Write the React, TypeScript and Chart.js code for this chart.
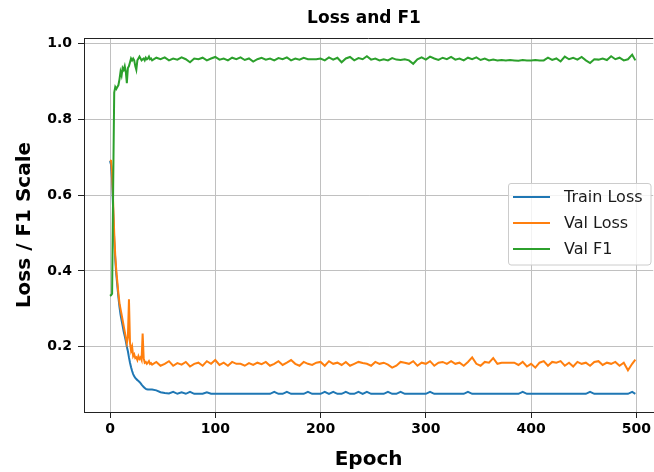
import React, { useEffect, useRef } from "react";
import { Chart, registerables } from "chart.js";

Chart.register(...registerables);

const epochs = [
  0, 1, 2, 3, 4, 5, 6, 7, 8, 9,
  10, 11, 12, 13, 14, 15, 16, 17, 18, 19,
  20, 21, 22, 23, 24, 25, 26, 27, 28, 29,
  30, 31, 32, 33, 34, 35, 36, 37, 38, 39,
  40,
  44, 48, 52, 56, 60, 64, 68, 72, 76, 80,
  84, 88, 92, 96, 100, 104, 108, 112, 116, 120,
  124, 128, 132, 136, 140, 144, 148, 152, 156, 160,
  164, 168, 172, 176, 180, 184, 188, 192, 196, 200,
  204, 208, 212, 216, 220, 224, 228, 232, 236, 240,
  244, 248, 252, 256, 260, 264, 268, 272, 276, 280,
  284, 288, 292, 296, 300, 304, 308, 312, 316, 320,
  324, 328, 332, 336, 340, 344, 348, 352, 356, 360,
  364, 368, 372, 376, 380, 384, 388, 392, 396, 400,
  404, 408, 412, 416, 420, 424, 428, 432, 436, 440,
  444, 448, 452, 456, 460, 464, 468, 472, 476, 480,
  484, 488, 492, 496,
  499,
];

const trainLoss = [
  0.69, 0.68, 0.64, 0.56, 0.48, 0.43, 0.39, 0.36, 0.33, 0.305,
  0.285, 0.27, 0.255, 0.24, 0.228, 0.215, 0.2, 0.188, 0.172, 0.158,
  0.146, 0.136, 0.128, 0.122, 0.118, 0.115, 0.112, 0.11, 0.107, 0.104,
  0.1, 0.097, 0.094, 0.091, 0.089, 0.088, 0.087, 0.087, 0.087, 0.087,
  0.087,
  0.085, 0.08, 0.078, 0.077, 0.081, 0.076, 0.08, 0.076, 0.081, 0.076,
  0.076, 0.076, 0.08, 0.076, 0.076, 0.076, 0.076, 0.076, 0.076, 0.076,
  0.076, 0.076, 0.076, 0.076, 0.076, 0.076, 0.076, 0.076, 0.081, 0.076,
  0.076, 0.081, 0.076, 0.076, 0.076, 0.076, 0.081, 0.076, 0.076, 0.076,
  0.081, 0.076, 0.081, 0.076, 0.076, 0.081, 0.076, 0.076, 0.081, 0.076,
  0.081, 0.076, 0.076, 0.076, 0.076, 0.081, 0.076, 0.076, 0.081, 0.076,
  0.076, 0.076, 0.076, 0.076, 0.076, 0.081, 0.076, 0.076, 0.076, 0.076,
  0.076, 0.076, 0.076, 0.076, 0.081, 0.076, 0.076, 0.076, 0.076, 0.076,
  0.076, 0.076, 0.076, 0.076, 0.076, 0.076, 0.076, 0.081, 0.076, 0.076,
  0.076, 0.076, 0.076, 0.076, 0.076, 0.076, 0.076, 0.076, 0.076, 0.076,
  0.076, 0.076, 0.076, 0.081, 0.076, 0.076, 0.076, 0.076, 0.076, 0.076,
  0.076, 0.076, 0.076, 0.081,
  0.076,
];

const valLoss = [
  0.692, 0.69, 0.66, 0.58, 0.5, 0.44, 0.4, 0.37, 0.34, 0.315,
  0.3, 0.285, 0.27, 0.255, 0.24, 0.225, 0.21, 0.225, 0.325, 0.21,
  0.19, 0.2, 0.175, 0.18, 0.17, 0.172, 0.165, 0.175, 0.168, 0.172,
  0.165, 0.235, 0.17, 0.158, 0.16, 0.155, 0.158, 0.162, 0.155, 0.157,
  0.153,
  0.16, 0.15, 0.155, 0.162, 0.15, 0.157, 0.153, 0.16, 0.148, 0.155,
  0.158, 0.15, 0.162, 0.155, 0.165, 0.152, 0.158, 0.15, 0.16, 0.155,
  0.155, 0.15, 0.157, 0.152, 0.158, 0.154, 0.16, 0.15, 0.155, 0.162,
  0.152, 0.158, 0.165, 0.155, 0.15, 0.16, 0.155, 0.152, 0.158, 0.16,
  0.15, 0.162, 0.155, 0.158, 0.152, 0.16, 0.15, 0.155, 0.16, 0.157,
  0.155, 0.15, 0.16, 0.155, 0.158, 0.153, 0.145, 0.15, 0.16, 0.158,
  0.155, 0.162, 0.15, 0.158, 0.155, 0.162, 0.15, 0.158, 0.16, 0.155,
  0.162, 0.155, 0.158, 0.15, 0.16, 0.172, 0.155, 0.15, 0.16, 0.158,
  0.17, 0.155, 0.158, 0.158, 0.158, 0.158, 0.152, 0.16, 0.148, 0.155,
  0.145, 0.158, 0.162, 0.15, 0.16, 0.158, 0.162, 0.15, 0.158, 0.148,
  0.16, 0.155, 0.158, 0.15, 0.16, 0.162, 0.152, 0.158, 0.155, 0.16,
  0.15, 0.158, 0.138, 0.155,
  0.166,
];

const valF1 = [
  0.334, 0.336, 0.34, 0.62, 0.87, 0.885, 0.88, 0.885, 0.89, 0.905,
  0.925, 0.915, 0.935, 0.93, 0.94, 0.925, 0.895, 0.935, 0.94, 0.95,
  0.96, 0.955, 0.96, 0.955, 0.94, 0.93, 0.955, 0.96, 0.965, 0.96,
  0.955, 0.958, 0.96, 0.955, 0.962, 0.958, 0.96, 0.965, 0.958, 0.96,
  0.955,
  0.962, 0.958, 0.963, 0.955, 0.96, 0.957, 0.963, 0.958, 0.95, 0.96,
  0.958, 0.962, 0.955, 0.96, 0.964, 0.957, 0.96, 0.955, 0.962, 0.958,
  0.963, 0.956, 0.96, 0.952, 0.958, 0.962, 0.957, 0.96, 0.955, 0.961,
  0.958, 0.963, 0.955, 0.96, 0.957, 0.962, 0.958, 0.958, 0.958, 0.96,
  0.955, 0.963, 0.957, 0.962, 0.95, 0.96, 0.964, 0.955, 0.961, 0.958,
  0.966, 0.957, 0.96, 0.955, 0.958, 0.955, 0.961, 0.957, 0.956, 0.958,
  0.955, 0.946, 0.958, 0.963, 0.957, 0.965, 0.96, 0.956, 0.962, 0.958,
  0.964, 0.957, 0.96, 0.955, 0.962, 0.958, 0.963, 0.956, 0.96, 0.955,
  0.957, 0.955, 0.956, 0.955, 0.956, 0.955, 0.954, 0.956, 0.955, 0.955,
  0.956, 0.955, 0.955, 0.962, 0.956, 0.96, 0.952, 0.965, 0.958, 0.962,
  0.957, 0.964, 0.955, 0.948, 0.958, 0.957, 0.96, 0.956, 0.966, 0.958,
  0.962, 0.955, 0.958, 0.97,
  0.955,
];

const seriesNames = ["Train Loss", "Val Loss", "Val F1"];
const seriesColors = ["#1f77b4", "#ff7f0e", "#2ca02c"];
const seriesValues = [trainLoss, valLoss, valF1];
const xTicks = [0, 100, 200, 300, 400, 500];
const yTicks = [0.2, 0.4, 0.6, 0.8, 1.0];
const titleText = "Loss and F1";
const xTitle = "Epoch";
const yTitle = "Loss / F1 Scale";

const FONT = "'DejaVu Sans', 'Liberation Sans', sans-serif";

const framePlugin = {
  id: "frameAndExtras",
  afterDraw(chart: any) {
    const { ctx, chartArea } = chart;
    ctx.save();
    ctx.strokeStyle = "#222222";
    ctx.lineWidth = 1;
    ctx.beginPath();
    ctx.moveTo(chartArea.left, chartArea.top + 0.5);
    ctx.lineTo(chartArea.right, chartArea.top + 0.5);
    ctx.stroke();

    ctx.fillStyle = "#000000";
    ctx.font = `bold 17px ${FONT}`;
    ctx.textAlign = "center";
    ctx.textBaseline = "middle";
    ctx.fillText(titleText, 364, 19);

    const bx = 508, by = 183, bw = 143, bh = 82, r = 3;
    ctx.fillStyle = "rgba(255,255,255,0.8)";
    ctx.strokeStyle = "#cccccc";
    ctx.lineWidth = 1;
    ctx.beginPath();
    ctx.moveTo(bx + r, by + 0.5);
    ctx.lineTo(bx + bw - r, by + 0.5);
    ctx.quadraticCurveTo(bx + bw, by + 0.5, bx + bw, by + r);
    ctx.lineTo(bx + bw, by + bh - r);
    ctx.quadraticCurveTo(bx + bw, by + bh, bx + bw - r, by + bh);
    ctx.lineTo(bx + r, by + bh);
    ctx.quadraticCurveTo(bx + 0.5, by + bh, bx + 0.5, by + bh - r);
    ctx.lineTo(bx + 0.5, by + r);
    ctx.quadraticCurveTo(bx + 0.5, by + 0.5, bx + r, by + 0.5);
    ctx.closePath();
    ctx.fill();
    ctx.stroke();

    seriesNames.forEach((name, i) => {
      const y = 197 + i * 26;
      ctx.strokeStyle = seriesColors[i];
      ctx.lineWidth = 2;
      ctx.beginPath();
      ctx.moveTo(513, y);
      ctx.lineTo(550, y);
      ctx.stroke();
      ctx.fillStyle = "#1a1a1a";
      ctx.font = `16px ${FONT}`;
      ctx.textAlign = "left";
      ctx.textBaseline = "middle";
      ctx.fillText(name, 564, y + 1);
    });
    ctx.restore();
  },
};

export default function App() {
  const canvasRef = useRef<HTMLCanvasElement | null>(null);

  useEffect(() => {
    if (!canvasRef.current) return;
    const datasets = seriesNames.map((name, i) => ({
      label: name,
      data: epochs.map((e, j) => ({ x: e, y: seriesValues[i][j] })),
      borderColor: seriesColors[i],
      backgroundColor: seriesColors[i],
      borderWidth: 2,
      pointRadius: 0,
      tension: 0,
      fill: false,
      order: 3 - i,
    }));

    const chart = new Chart(canvasRef.current, {
      type: "line",
      data: { datasets },
      plugins: [framePlugin],
      options: {
        animation: false,
        responsive: false,
        devicePixelRatio: 1,
        layout: { padding: { top: 38, right: 0, left: 0, bottom: 0 } },
        plugins: {
          legend: { display: false },
          title: { display: false },
          tooltip: { enabled: false },
        },
        scales: {
          x: {
            type: "linear",
            min: -24.7,
            max: 516,
            afterBuildTicks: (scale: any) => {
              scale.ticks = xTicks.map((v) => ({ value: v }));
            },
            afterFit: (scale: any) => {
              scale.height = 60;
            },
            grid: {
              color: "#c0c0c0",
              lineWidth: 1,
              tickColor: "#222222",
              tickLength: 6,
              drawTicks: true,
            },
            border: { display: true, color: "#222222", width: 1 },
            ticks: {
              color: "#000000",
              font: { family: FONT, size: 14, weight: "bold" },
              padding: 3,
              maxRotation: 0,
              autoSkip: false,
              callback: (v: any) => String(v),
            },
            title: {
              display: true,
              text: xTitle,
              color: "#000000",
              font: { family: FONT, size: 20, weight: "bold" },
              padding: { top: 0, bottom: 0 },
            },
          },
          y: {
            type: "linear",
            min: 0.028,
            max: 1.014,
            afterBuildTicks: (scale: any) => {
              scale.ticks = yTicks.map((v) => ({ value: v }));
            },
            afterFit: (scale: any) => {
              scale.width = 84;
            },
            grid: {
              color: "#c0c0c0",
              lineWidth: 1,
              tickColor: "#222222",
              tickLength: 6,
              drawTicks: true,
            },
            border: { display: true, color: "#222222", width: 1 },
            ticks: {
              color: "#000000",
              font: { family: FONT, size: 14, weight: "bold" },
              padding: 6,
              autoSkip: false,
              callback: (v: any) => Number(v).toFixed(1),
            },
            title: {
              display: true,
              text: yTitle,
              color: "#000000",
              font: { family: FONT, size: 20, weight: "bold" },
              padding: { top: 13, bottom: 0 },
            },
          },
        },
      },
    });
    return () => chart.destroy();
  }, []);

  return (
    <div style={{ position: "fixed", left: 0, top: 0, width: 654, height: 472, background: "#ffffff" }}>
      <canvas ref={canvasRef} width={654} height={472} style={{ width: 654, height: 472, display: "block" }} />
    </div>
  );
}
